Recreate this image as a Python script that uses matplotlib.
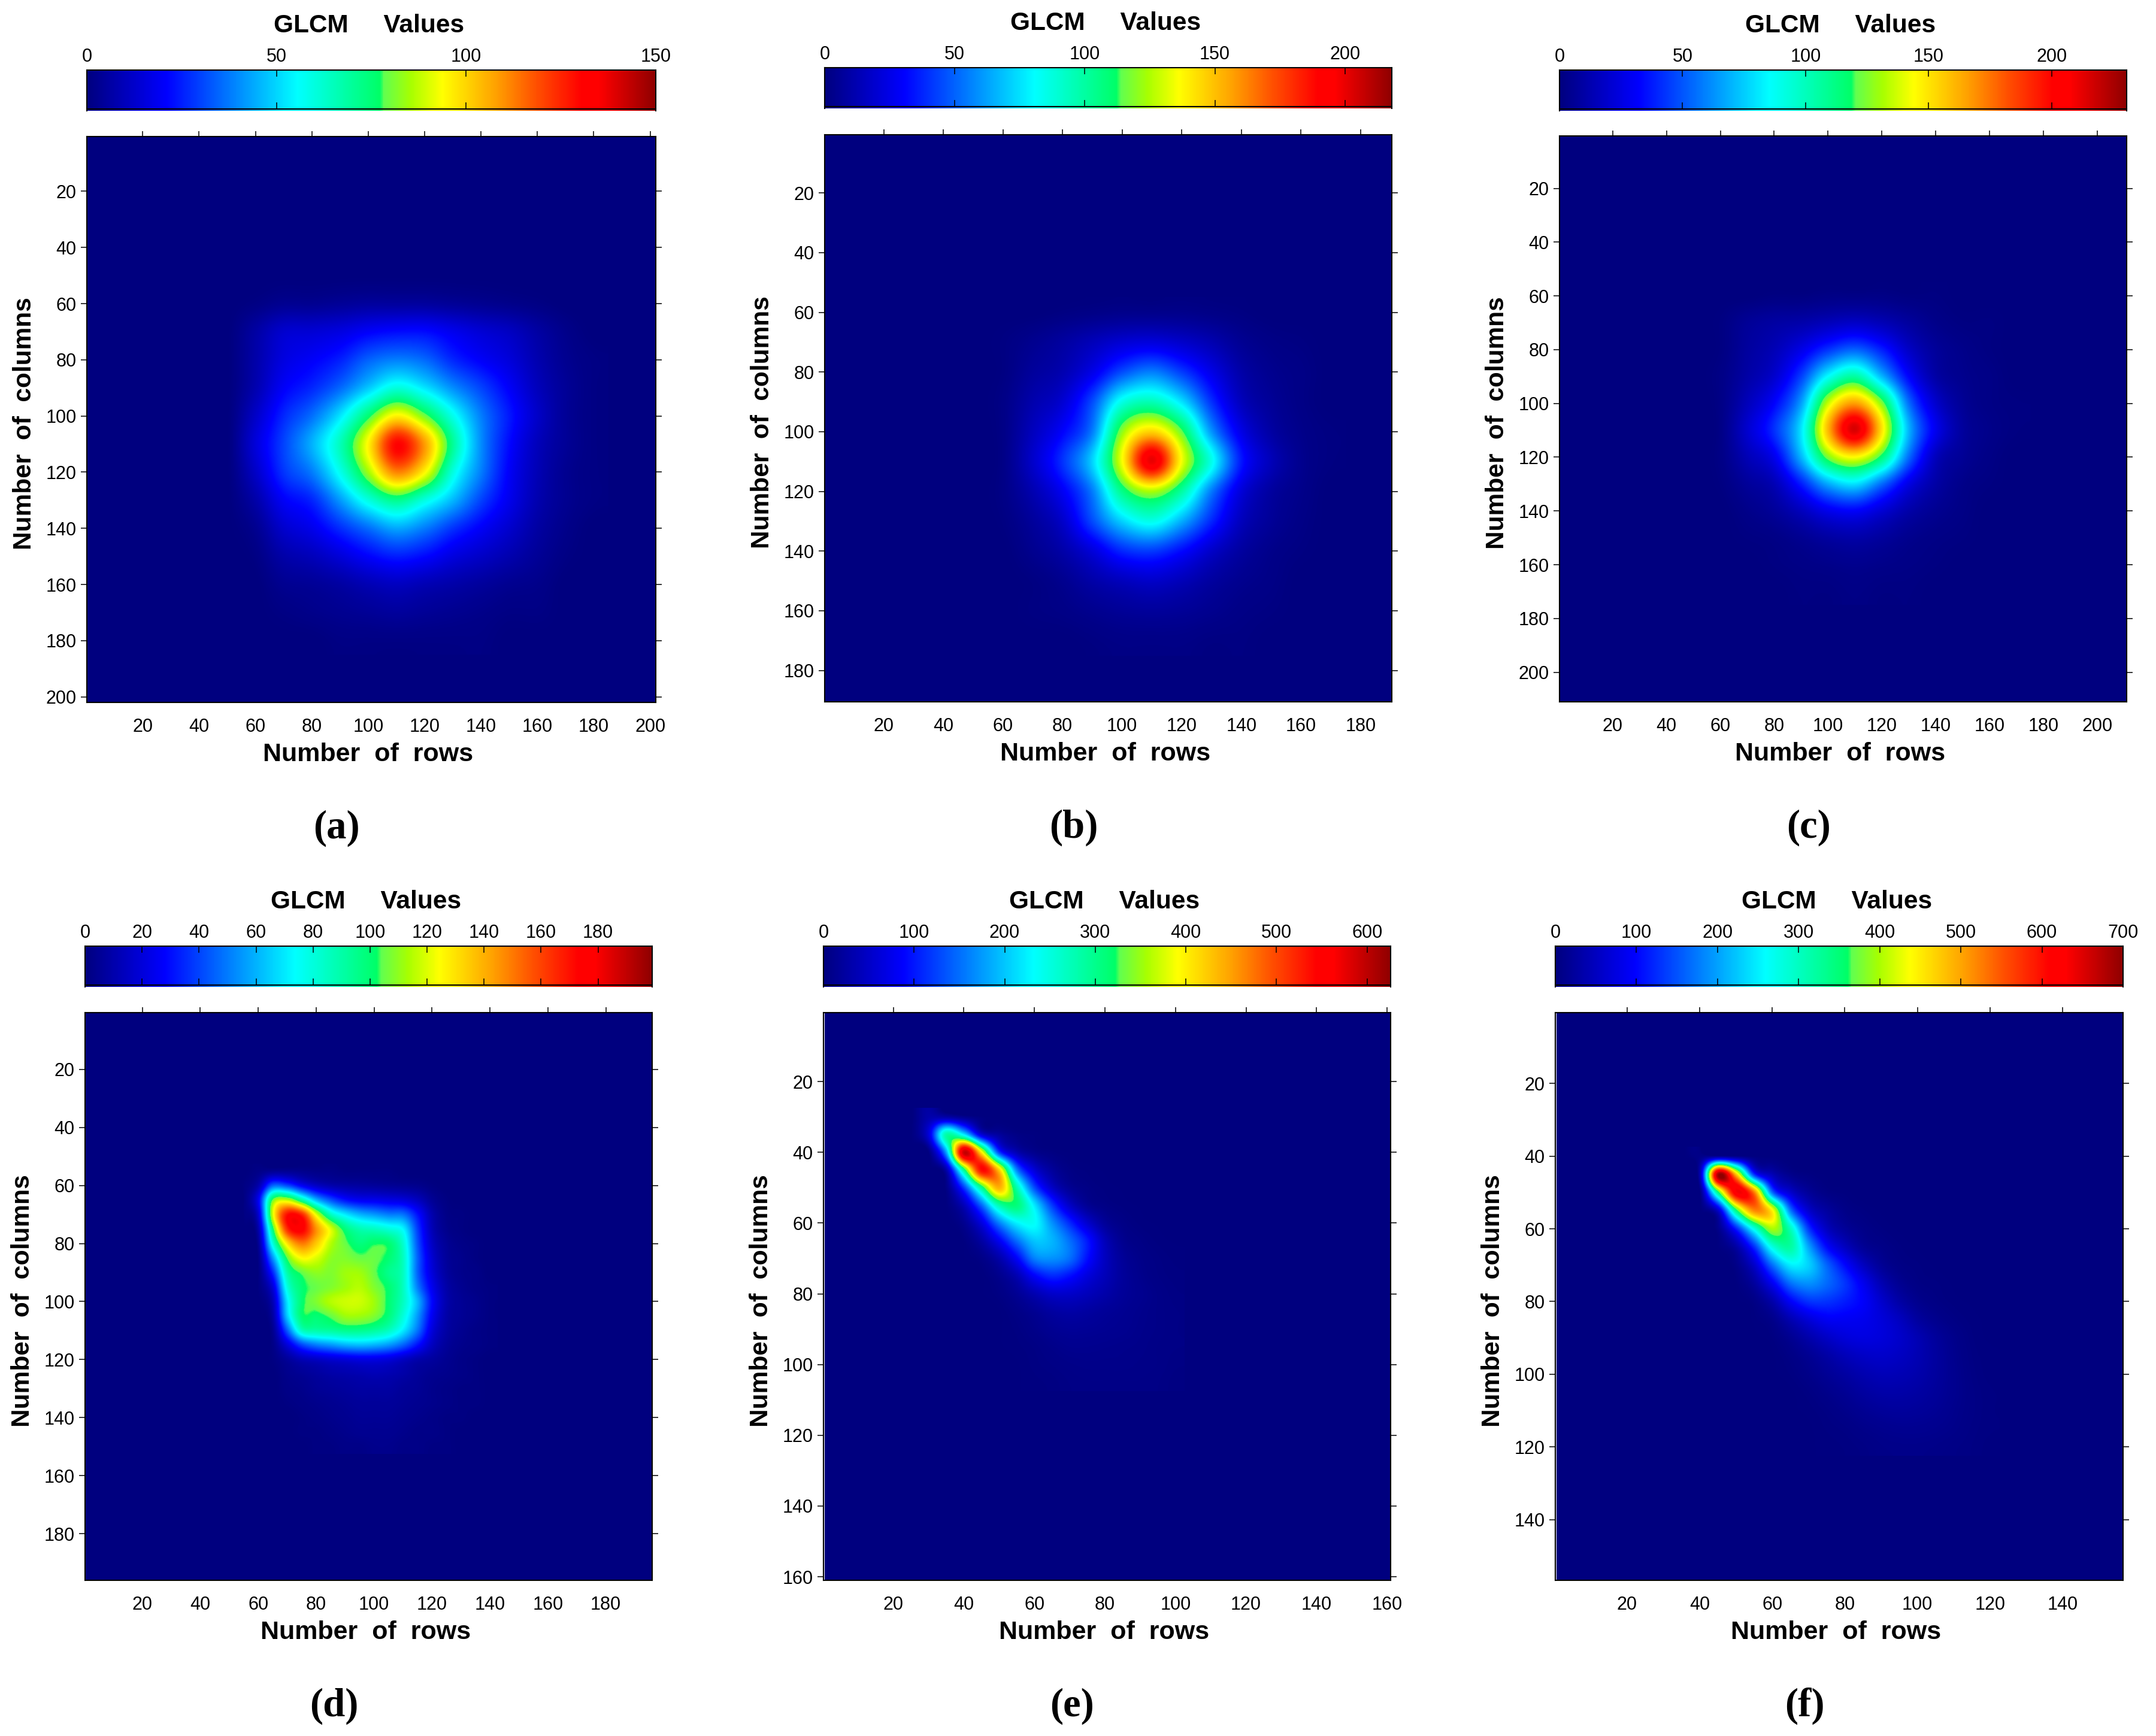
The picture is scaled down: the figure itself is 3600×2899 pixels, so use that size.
import numpy as np
import matplotlib
matplotlib.use("Agg")
import matplotlib.pyplot as plt
from matplotlib.colors import LinearSegmentedColormap, Normalize

W, H = 3600, 2899

# axes size of each matrix (rows = cols), colour-bar maximum and ticks
sizes = [202, 190.5, 211, 196, 161, 156.7]
vmax = [150, 218, 230.5, 199, 626, 700]
cbar_ticks = [
    [0, 50, 100, 150],
    [0, 50, 100, 150, 200],
    [0, 50, 100, 150, 200],
    [0, 20, 40, 60, 80, 100, 120, 140, 160, 180],
    [0, 100, 200, 300, 400, 500, 600],
    [0, 100, 200, 300, 400, 500, 600, 700],
]
axis_ticks = [
    list(range(20, 201, 20)),
    list(range(20, 181, 20)),
    list(range(20, 201, 20)),
    list(range(20, 181, 20)),
    list(range(20, 161, 20)),
    list(range(20, 141, 20)),
]
panel_names = ["(a)", "(b)", "(c)", "(d)", "(e)", "(f)"]

# values, on a coarse grid (rows listed from the top)
x_a = [50, 60, 70, 80, 90, 100, 110, 120, 130, 140, 150, 160, 170, 180]
y_a = [50, 60, 70, 80, 90, 100, 110, 120, 130, 140, 150, 160, 170, 180]
glcm_a = [
    [0, 0, 0, 0, 0, 0, 0, 0, 0, 0, 0, 0, 0, 0],
    [0, 1, 3, 3, 4, 5, 5, 5, 4, 3, 2, 1, 0, 0],
    [0, 6, 13, 14, 16, 20, 22, 22, 18, 14, 11, 6, 2, 0],
    [0, 7, 16, 20, 25, 34, 38, 35, 26, 20, 15, 8, 3, 1],
    [0, 8, 20, 26, 35, 48, 60, 52, 40, 30, 20, 10, 4, 1],
    [0, 12, 26, 36, 52, 75, 95, 80, 58, 38, 24, 12, 4, 1],
    [0, 15, 30, 45, 65, 95, 130, 108, 70, 40, 22, 10, 4, 1],
    [0, 12, 28, 38, 58, 85, 112, 95, 60, 38, 20, 9, 3, 1],
    [0, 7, 20, 26, 42, 60, 72, 60, 46, 30, 18, 8, 3, 1],
    [0, 3, 13, 18, 27, 36, 44, 38, 28, 20, 13, 6, 2, 0],
    [0, 1, 7, 10, 15, 21, 25, 22, 16, 12, 8, 4, 1, 0],
    [0, 0, 3, 4, 6, 9, 11, 9, 7, 5, 3, 2, 0, 0],
    [0, 0, 1, 2, 3, 4, 5, 4, 3, 2, 1, 1, 0, 0],
    [0, 0, 0, 0, 1, 1, 1, 1, 1, 1, 0, 0, 0, 0],
]

x_b = [50, 60, 70, 80, 90, 100, 110, 120, 130, 140, 150, 160, 170]
y_b = [60, 70, 80, 90, 100, 110, 120, 130, 140, 150, 160, 170]
glcm_b = [
    [0, 0, 0, 1, 2, 3, 3, 3, 2, 1, 0, 0, 0],
    [0, 1, 4, 8, 14, 20, 22, 18, 12, 5, 2, 1, 0],
    [0, 1, 7, 12, 25, 45, 55, 42, 25, 10, 4, 2, 0],
    [0, 2, 11, 20, 45, 85, 95, 75, 40, 15, 6, 2, 0],
    [0, 2, 15, 30, 55, 120, 145, 115, 60, 25, 9, 3, 1],
    [0, 2, 18, 40, 72, 135, 200, 135, 85, 35, 14, 4, 1],
    [0, 2, 12, 28, 55, 105, 125, 100, 55, 22, 8, 3, 0],
    [0, 1, 7, 18, 45, 72, 85, 65, 38, 15, 6, 2, 0],
    [0, 0, 4, 10, 22, 38, 42, 32, 18, 8, 3, 1, 0],
    [0, 0, 1, 4, 10, 15, 18, 14, 8, 4, 2, 0, 0],
    [0, 0, 1, 2, 4, 6, 7, 6, 4, 2, 1, 0, 0],
    [0, 0, 0, 0, 1, 2, 2, 2, 1, 1, 0, 0, 0],
]

x_c = [50, 60, 70, 80, 90, 100, 110, 120, 130, 140, 150, 160, 170]
y_c = [60, 70, 80, 90, 100, 110, 120, 130, 140, 150, 160, 170]
glcm_c = [
    [0, 0, 0, 1, 1, 2, 2, 2, 1, 1, 0, 0, 0],
    [0, 1, 6, 9, 11, 15, 18, 14, 8, 3, 1, 1, 0],
    [0, 1, 8, 14, 26, 42, 52, 38, 18, 7, 3, 1, 0],
    [0, 2, 10, 20, 45, 85, 105, 70, 32, 10, 4, 2, 0],
    [0, 2, 15, 32, 65, 135, 165, 125, 55, 20, 6, 2, 1],
    [0, 2, 20, 42, 80, 160, 215, 150, 70, 28, 8, 3, 1],
    [0, 2, 14, 28, 70, 125, 145, 115, 55, 16, 6, 2, 0],
    [0, 1, 7, 14, 38, 68, 80, 55, 26, 10, 3, 1, 0],
    [0, 0, 3, 7, 16, 28, 32, 22, 11, 5, 2, 0, 0],
    [0, 0, 1, 2, 5, 9, 11, 8, 4, 2, 1, 0, 0],
    [0, 0, 0, 1, 2, 3, 4, 3, 2, 1, 0, 0, 0],
    [0, 0, 0, 0, 1, 1, 2, 1, 1, 0, 0, 0, 0],
]

x_d = [50, 55, 60, 65, 70, 75, 80, 85, 90, 95, 100, 105, 110, 115, 120, 125, 130, 135, 140]
y_d = [55, 60, 65, 70, 75, 80, 85, 90, 95, 100, 105, 110, 115, 120, 125, 130, 135, 140, 145, 150]
glcm_d = [
    [0, 0, 2, 4, 4, 3, 2, 2, 1, 1, 1, 1, 0, 0, 0, 0, 0, 0, 0],
    [0, 1, 10, 45, 40, 25, 15, 10, 8, 7, 6, 5, 4, 3, 1, 0, 0, 0, 0],
    [0, 1, 25, 105, 115, 90, 60, 42, 30, 25, 24, 22, 20, 14, 5, 1, 0, 0, 0],
    [0, 1, 18, 120, 170, 165, 120, 85, 70, 60, 55, 50, 48, 30, 10, 2, 1, 0, 0],
    [0, 0, 10, 100, 165, 175, 145, 120, 98, 88, 85, 80, 72, 38, 12, 3, 1, 0, 0],
    [0, 0, 5, 80, 130, 150, 135, 115, 105, 98, 102, 100, 82, 42, 15, 5, 2, 1, 0],
    [0, 0, 2, 55, 105, 125, 120, 110, 108, 105, 105, 100, 85, 45, 18, 6, 3, 1, 0],
    [0, 0, 1, 35, 90, 105, 110, 108, 112, 112, 105, 95, 85, 45, 20, 7, 3, 2, 0],
    [0, 0, 1, 20, 80, 100, 105, 108, 112, 115, 108, 100, 85, 50, 24, 9, 4, 2, 1],
    [0, 0, 0, 12, 70, 100, 108, 115, 118, 118, 112, 100, 85, 60, 28, 10, 5, 3, 1],
    [0, 0, 0, 8, 65, 100, 100, 105, 112, 112, 108, 98, 80, 55, 25, 9, 5, 3, 1],
    [0, 0, 0, 4, 45, 85, 90, 92, 95, 95, 92, 85, 70, 48, 20, 8, 4, 2, 1],
    [0, 0, 0, 2, 20, 40, 50, 55, 60, 62, 60, 55, 45, 30, 14, 6, 3, 2, 1],
    [0, 0, 0, 1, 6, 12, 15, 18, 20, 22, 22, 20, 15, 10, 7, 4, 2, 1, 0],
    [0, 0, 0, 0, 3, 5, 7, 9, 10, 11, 12, 11, 9, 6, 4, 3, 2, 1, 0],
    [0, 0, 0, 0, 2, 3, 5, 6, 7, 8, 8, 8, 6, 5, 3, 2, 1, 1, 0],
    [0, 0, 0, 0, 1, 2, 3, 4, 5, 6, 6, 6, 5, 4, 3, 2, 1, 1, 0],
    [0, 0, 0, 0, 0, 1, 2, 3, 4, 5, 5, 5, 4, 3, 2, 1, 1, 0, 0],
    [0, 0, 0, 0, 0, 1, 1, 2, 3, 4, 4, 4, 3, 2, 2, 1, 0, 0, 0],
    [0, 0, 0, 0, 0, 0, 1, 1, 2, 2, 3, 3, 2, 2, 1, 1, 0, 0, 0],
]

x_e = [25, 30, 35, 40, 45, 50, 55, 60, 65, 70, 75, 80, 85, 90, 95, 100]
y_e = [30, 35, 40, 45, 50, 55, 60, 65, 70, 75, 80, 85, 90, 95, 100, 105]
glcm_e = [
    [0, 30, 25, 10, 2, 0, 0, 0, 0, 0, 0, 0, 0, 0, 0, 0],
    [0, 60, 280, 220, 60, 20, 5, 2, 0, 0, 0, 0, 0, 0, 0, 0],
    [0, 2, 180, 590, 400, 120, 35, 10, 3, 1, 0, 0, 0, 0, 0, 0],
    [0, 0, 30, 300, 540, 420, 160, 60, 20, 5, 2, 1, 0, 0, 0, 0],
    [0, 0, 5, 120, 300, 440, 280, 130, 50, 15, 5, 2, 1, 0, 0, 0],
    [0, 0, 1, 40, 145, 280, 310, 220, 120, 50, 15, 5, 2, 1, 0, 0],
    [0, 0, 0, 12, 65, 160, 225, 235, 170, 110, 55, 18, 6, 2, 1, 0],
    [0, 0, 0, 2, 25, 80, 150, 200, 190, 150, 100, 40, 12, 5, 2, 1],
    [0, 0, 0, 1, 6, 30, 85, 160, 170, 150, 95, 45, 18, 8, 4, 2],
    [0, 0, 0, 0, 1, 10, 35, 85, 110, 95, 65, 40, 20, 10, 5, 3],
    [0, 0, 0, 0, 1, 4, 15, 35, 52, 52, 42, 30, 18, 12, 7, 4],
    [0, 0, 0, 0, 0, 1, 6, 14, 24, 28, 24, 18, 14, 10, 7, 5],
    [0, 0, 0, 0, 0, 1, 3, 8, 14, 17, 16, 14, 12, 9, 7, 5],
    [0, 0, 0, 0, 0, 1, 2, 4, 8, 11, 11, 10, 9, 8, 6, 5],
    [0, 0, 0, 0, 0, 0, 1, 3, 5, 7, 8, 8, 8, 7, 6, 4],
    [0, 0, 0, 0, 0, 0, 1, 2, 3, 5, 6, 6, 6, 6, 5, 3],
]

x_f = [35, 40, 45, 50, 55, 60, 65, 70, 75, 80, 85, 90, 95, 100, 105, 110, 115, 120]
y_f = [40, 45, 50, 55, 60, 65, 70, 75, 80, 85, 90, 95, 100, 105, 110, 115, 120]
glcm_f = [
    [0, 8, 6, 2, 0, 0, 0, 0, 0, 0, 0, 0, 0, 0, 0, 0, 0, 0],
    [0, 40, 680, 470, 120, 40, 10, 3, 1, 0, 0, 0, 0, 0, 0, 0, 0, 0],
    [0, 2, 350, 630, 520, 160, 60, 20, 5, 2, 0, 0, 0, 0, 0, 0, 0, 0],
    [0, 0, 60, 350, 520, 440, 170, 60, 25, 8, 3, 1, 0, 0, 0, 0, 0, 0],
    [0, 0, 10, 120, 280, 400, 300, 130, 50, 20, 8, 3, 1, 0, 0, 0, 0, 0],
    [0, 0, 2, 30, 130, 280, 320, 200, 100, 50, 18, 8, 3, 1, 0, 0, 0, 0],
    [0, 0, 0, 8, 60, 170, 250, 230, 160, 100, 50, 18, 6, 3, 1, 0, 0, 0],
    [0, 0, 0, 2, 25, 90, 170, 190, 165, 130, 85, 40, 15, 5, 3, 1, 0, 0],
    [0, 0, 0, 1, 6, 35, 95, 130, 130, 115, 95, 60, 30, 12, 5, 2, 1, 0],
    [0, 0, 0, 0, 2, 10, 40, 70, 90, 90, 85, 70, 50, 25, 12, 5, 2, 1],
    [0, 0, 0, 0, 1, 3, 15, 35, 55, 70, 75, 70, 58, 40, 22, 10, 3, 1],
    [0, 0, 0, 0, 0, 1, 6, 16, 30, 45, 55, 58, 52, 40, 25, 12, 4, 2],
    [0, 0, 0, 0, 0, 1, 3, 9, 18, 28, 38, 44, 42, 35, 24, 13, 5, 2],
    [0, 0, 0, 0, 0, 0, 1, 4, 10, 17, 26, 32, 32, 28, 21, 13, 6, 3],
    [0, 0, 0, 0, 0, 0, 1, 2, 5, 10, 16, 21, 23, 21, 17, 11, 6, 3],
    [0, 0, 0, 0, 0, 0, 0, 1, 3, 5, 9, 12, 14, 14, 12, 9, 5, 3],
    [0, 0, 0, 0, 0, 0, 0, 1, 2, 3, 5, 8, 9, 9, 8, 6, 4, 2],
]

grids = [
    (x_a, y_a, glcm_a),
    (x_b, y_b, glcm_b),
    (x_c, y_c, glcm_c),
    (x_d, y_d, glcm_d),
    (x_e, y_e, glcm_e),
    (x_f, y_f, glcm_f),
]

# pixel boxes: image left, right, top, bottom, colour bar top, bottom
boxes = [
    (145, 1095, 228, 1173, 117, 182),
    (1377, 2324, 225, 1172, 113, 178),
    (2604, 3551, 227, 1172, 117, 182),
    (142, 1089, 1691, 2639, 1580, 1645),
    (1375, 2322, 1691, 2639, 1580, 1645),
    (2597, 3545, 1691, 2639, 1580, 1645),
]

# jet with the step at the green that the original colour bars show
glcm_jet = LinearSegmentedColormap.from_list("glcm_jet", [
    (0.0, "#00007f"),
    (0.14, "#0000ff"),
    (0.37, "#00ffff"),
    (0.515, "#00ff66"),
    (0.522, "#60ff50"),
    (0.57, "#a8ff00"),
    (0.625, "#ffff00"),
    (0.72, "#ffa000"),
    (0.79, "#ff5000"),
    (0.87, "#ff0000"),
    (0.90, "#ff0000"),
    (1.0, "#8f0000"),
], N=512)

plt.rcParams["font.family"] = ["Liberation Sans", "DejaVu Sans"]

fig = plt.figure(figsize=(W / 100, H / 100), dpi=100)


def add_px_axes(left, right, top, bottom):
    return fig.add_axes([left / W, 1 - bottom / H, (right - left) / W, (bottom - top) / H])


for i, (left, right, top, bottom, cb_top, cb_bottom) in enumerate(boxes):
    n = sizes[i]
    xs, ys, vals = grids[i]
    norm = Normalize(0, vmax[i])

    ax = add_px_axes(left, right, top, bottom)
    ax.imshow([[0]], cmap=glcm_jet, norm=norm, aspect="auto", extent=(0.5, n, n, 0.5))
    dx = xs[1] - xs[0]
    dy = ys[1] - ys[0]
    im = ax.imshow(vals, cmap=glcm_jet, norm=norm, aspect="auto",
                   interpolation="catrom", interpolation_stage="data",
                   extent=(xs[0] - dx / 2, xs[-1] + dx / 2, ys[-1] + dy / 2, ys[0] - dy / 2))
    ax.set_xlim(0.2, n)
    ax.set_ylim(n, 0.5)
    ax.set_xticks(axis_ticks[i])
    ax.set_yticks(axis_ticks[i])
    ax.tick_params(axis="x", bottom=False, top=True, labelbottom=True, labeltop=False,
                   direction="out", length=6.5, width=1.1, labelsize=22, pad=12)
    ax.tick_params(axis="y", left=True, right=True, direction="out",
                   length=7.5, width=1.1, labelsize=22, pad=5)
    for s in ax.spines.values():
        s.set_linewidth(1.5)

    # colour bar, with its lower line a little above the end of the colours
    cax = add_px_axes(left, right, cb_top, cb_bottom + 3)
    cb = fig.colorbar(im, cax=cax, orientation="horizontal")
    cb.outline.set_visible(False)
    cb.set_ticks(cbar_ticks[i])
    for name in ("top", "left", "right", "bottom"):
        cax.spines[name].set_visible(True)
        cax.spines[name].set_linewidth(1.5)
    cax.spines["bottom"].set_position(("axes", 0.05))
    cax.xaxis.set_ticks_position("both")
    cax.xaxis.set_label_position("top")
    cax.tick_params(axis="x", bottom=True, top=True, labeltop=True, labelbottom=False,
                    direction="in", length=8, width=1.1, labelsize=22, pad=5)

    mid_x = (left + right) / 2
    mid_y = (top + bottom) / 2
    fig.text((mid_x - 4) / W, 1 - (cb_top - 74) / H, "GLCM     Values", ha="center", va="center",
             fontsize=30.5, fontweight="bold")
    fig.text((mid_x - 5) / W, 1 - (bottom + 87) / H, "Number  of  rows", ha="center", va="center",
             fontsize=31, fontweight="bold")
    fig.text((left - 104) / W, 1 - (mid_y + 7) / H, "Number  of  columns", ha="center", va="center",
             rotation=90, fontsize=30.5, fontweight="bold")
    fig.text((mid_x - 58) / W, 1 - (bottom + 210) / H, panel_names[i], ha="center", va="center",
             fontsize=48, fontweight="bold", family=["Liberation Serif", "DejaVu Serif"])

fig.savefig("out.png", dpi=100, facecolor="white")
